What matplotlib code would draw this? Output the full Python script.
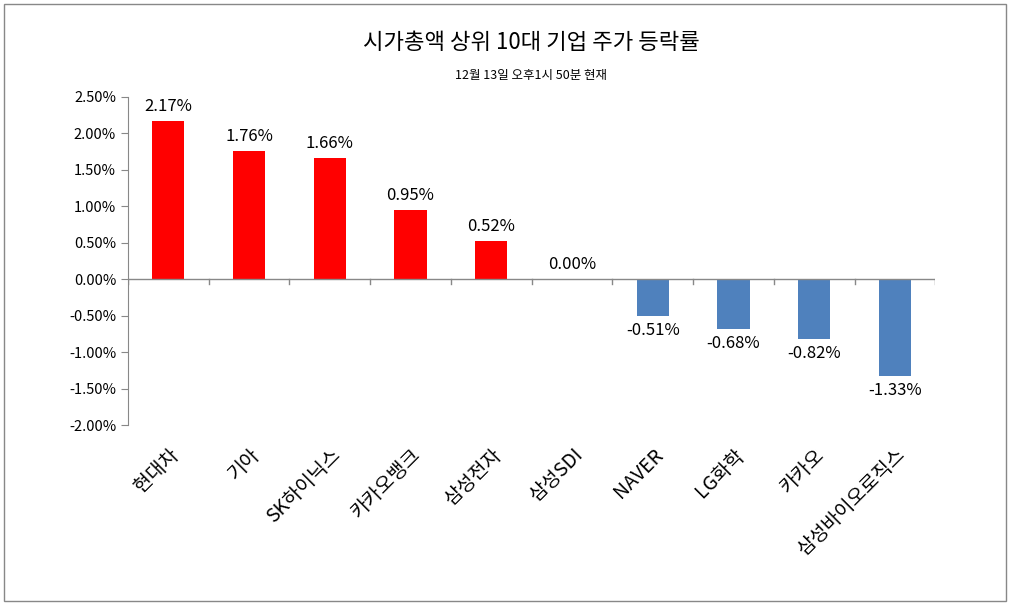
import matplotlib
matplotlib.use("Agg")
import matplotlib.pyplot as plt
from matplotlib.patches import Rectangle

plt.rcParams['font.family'] = ['Noto Sans CJK KR', 'DejaVu Sans']

# data
companies = ["현대차", "기아", "SK하이닉스", "카카오뱅크", "삼성전자",
             "삼성SDI", "NAVER", "LG화학", "카카오", "삼성바이오로직스"]
changes = [2.17, 1.76, 1.66, 0.95, 0.52, 0.00, -0.51, -0.68, -0.82, -1.33]
yticks = [2.5, 2.0, 1.5, 1.0, 0.5, 0.0, -0.5, -1.0, -1.5, -2.0]

fig = plt.figure(figsize=(10.10, 6.05), dpi=100)
fig.patches.append(Rectangle((0.004, 0.006), 0.992, 0.988, transform=fig.transFigure,
                             fill=False, ec="#888888", lw=1))
ax = fig.add_axes([0.1267, 0.2975, 0.7993, 0.5422])

n = len(companies)
xs = list(range(n))
colors = ["#FF0000" if v >= 0 else "#4F81BD" for v in changes]
ax.bar(xs, changes, width=0.4, color=colors, zorder=2)

for x, v in zip(xs, changes):
    off = 0.08 if v >= 0 else -0.08
    ax.text(x, v + off, f"{v:.2f}%", ha="center",
            va="bottom" if v >= 0 else "top", fontsize=12)

ax.set_xlim(-0.5, n - 0.5)
ax.set_ylim(-2.0, 2.5)
ax.set_yticks(yticks)
ax.set_yticklabels([f"{t:.2f}%" for t in yticks], fontsize=10.5)
for s in ["top", "right", "bottom"]:
    ax.spines[s].set_visible(False)
ax.spines["left"].set_color("#888888")
ax.tick_params(axis="y", direction="out", length=5, color="#888888")

# zero axis with category boundary ticks
ax.axhline(0, color="#888888", lw=1, zorder=3)
for b in [i - 0.5 for i in range(n + 1)]:
    ax.plot([b, b], [0, -0.06], color="#888888", lw=1, zorder=3)

ax.set_xticks(xs)
ax.set_xticklabels(companies, rotation=45, ha="right", rotation_mode="anchor", fontsize=14)
ax.tick_params(axis="x", length=0, pad=14)

fig.text(0.526, 0.93, "시가총액 상위 10대 기업 주가 등락률", ha="center", va="center", fontsize=16)
fig.text(0.526, 0.876, "12월 13일 오후1시 50분 현재", ha="center", va="center", fontsize=9)

fig.savefig("out.png", dpi=100)
